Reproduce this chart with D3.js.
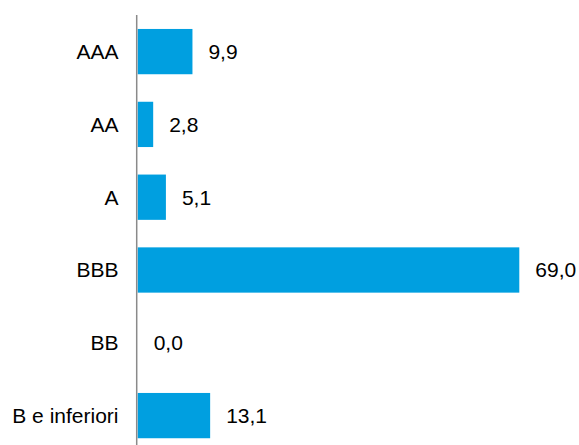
<!DOCTYPE html>
<html>
<head>
<meta charset="utf-8">
<script src="https://cdn.jsdelivr.net/npm/d3@7"></script>
<style>
  html, body { margin: 0; padding: 0; background: #fff; }
  svg { display: block; }
  text { font-family: "Liberation Sans", Arial, sans-serif; font-size: 21px; fill: #000; }
</style>
</head>
<body>
<svg id="chart" width="579" height="445"></svg>
<script>
// Rating categories and their shares (%)
const categories = ["AAA", "AA", "A", "BBB", "BB", "B e inferiori"];
const values = [9.9, 2.8, 5.1, 69.0, 0.0, 13.1];

const width = 579, height = 445;
const x0 = 137.7;

const svg = d3.select("#chart");

const x = d3.scaleLinear().domain([0, 69.0]).range([x0, 519.3]);
const y = d3.scaleBand()
  .domain(categories)
  .range([15.2, 452])
  .paddingInner(0.378)
  .paddingOuter(0.189);

const fmt = v => d3.format(".1f")(v).replace(".", ",");

const data = categories.map((c, i) => ({ c, v: values[i] }));

// Bars
svg.append("g")
  .selectAll("rect")
  .data(data)
  .join("rect")
  .attr("x", d => x(0))
  .attr("y", d => y(d.c))
  .attr("width", d => x(d.v) - x(0))
  .attr("height", y.bandwidth())
  .attr("fill", "#009FE0");

// Category axis: line only, labels to the left
svg.append("line")
  .attr("x1", 136.7).attr("x2", 136.7)
  .attr("y1", 15).attr("y2", height)
  .attr("stroke", "#8a8a8a")
  .attr("stroke-width", 1.5);

svg.append("g")
  .selectAll("text")
  .data(data)
  .join("text")
  .attr("x", 118.5)
  .attr("y", d => y(d.c) + y.bandwidth() / 2)
  .attr("dy", "0.35em")
  .attr("text-anchor", "end")
  .text(d => d.c);

// Value labels
svg.append("g")
  .selectAll("text")
  .data(data)
  .join("text")
  .attr("x", d => x(d.v) + 16)
  .attr("y", d => y(d.c) + y.bandwidth() / 2)
  .attr("dy", "0.35em")
  .text(d => fmt(d.v));
</script>
</body>
</html>
